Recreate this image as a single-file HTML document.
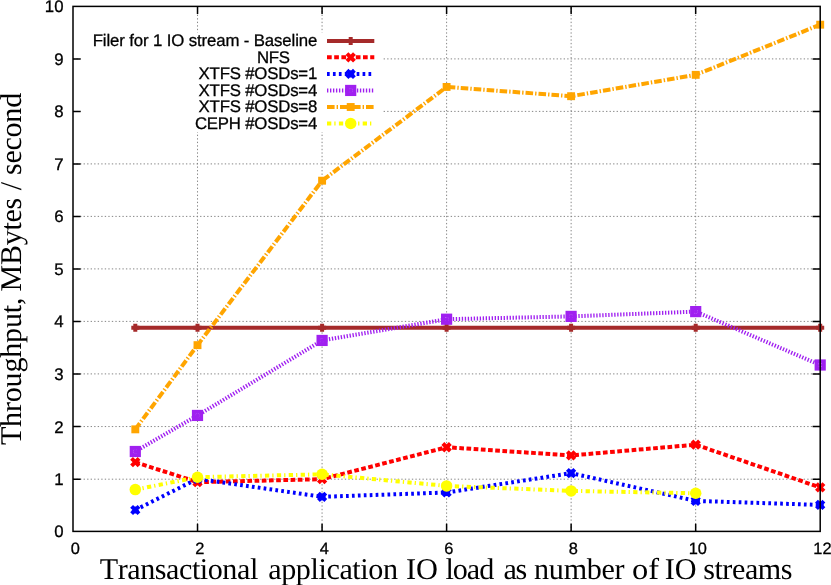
<!DOCTYPE html>
<html><head><meta charset="utf-8"><title>Throughput chart</title>
<style>
html,body{margin:0;padding:0;background:#fff;}
body{width:831px;height:585px;overflow:hidden;}
svg{display:block;will-change:transform;}
text{filter:grayscale(1);text-rendering:geometricPrecision;font-family:"Liberation Sans",sans-serif;fill:#000;stroke:#000;stroke-width:0.3px;}
.ser{font-family:"Liberation Serif",serif;font-kerning:none;stroke:none;}
</style></head><body>
<svg width="831" height="585" viewBox="0 0 831 585">
<rect x="0" y="0" width="831" height="585" fill="#fff"/>
<path d="M73.00 479.20H820.20M73.00 426.55H820.20M73.00 373.90H820.20M73.00 321.40H820.20M73.00 268.90H820.20M73.00 216.40H820.20M73.00 163.90H820.20M73.00 111.40H820.20M73.00 58.90H820.20M197.53 531.40V6.40M322.07 531.40V6.40M446.60 531.40V6.40M571.13 531.40V6.40M695.67 531.40V6.40" stroke="#808080" stroke-width="0.95" stroke-dasharray="1.35 2.18" fill="none"/>
<rect x="80.9" y="32.5" width="301.6" height="99.5" fill="#fff"/>
<polyline points="135.30,327.70 197.50,327.70 322.10,327.70 446.60,327.70 571.10,327.70 695.70,327.70 820.20,327.70" stroke="#a52a2a" stroke-width="4" fill="none" stroke-linejoin="miter"/>
<path d="M131.30 327.70H139.30M135.30 323.70V331.70" stroke="#a52a2a" stroke-width="4" fill="none"/>
<path d="M193.50 327.70H201.50M197.50 323.70V331.70" stroke="#a52a2a" stroke-width="4" fill="none"/>
<path d="M318.10 327.70H326.10M322.10 323.70V331.70" stroke="#a52a2a" stroke-width="4" fill="none"/>
<path d="M442.60 327.70H450.60M446.60 323.70V331.70" stroke="#a52a2a" stroke-width="4" fill="none"/>
<path d="M567.10 327.70H575.10M571.10 323.70V331.70" stroke="#a52a2a" stroke-width="4" fill="none"/>
<path d="M691.70 327.70H699.70M695.70 323.70V331.70" stroke="#a52a2a" stroke-width="4" fill="none"/>
<path d="M816.20 327.70H824.20M820.20 323.70V331.70" stroke="#a52a2a" stroke-width="4" fill="none"/>
<polyline points="135.30,462.20 197.50,482.15 322.10,479.20 446.60,447.25 571.10,455.45 695.70,444.70 820.20,487.45" stroke="#ff0000" stroke-width="4" fill="none" stroke-linejoin="miter" stroke-dasharray="4.7 2.5"/>
<path d="M131.55 458.45L139.05 465.95M131.55 465.95L139.05 458.45" stroke="#ff0000" stroke-width="4" fill="none"/>
<path d="M193.75 478.40L201.25 485.90M193.75 485.90L201.25 478.40" stroke="#ff0000" stroke-width="4" fill="none"/>
<path d="M318.35 475.45L325.85 482.95M318.35 482.95L325.85 475.45" stroke="#ff0000" stroke-width="4" fill="none"/>
<path d="M442.85 443.50L450.35 451.00M442.85 451.00L450.35 443.50" stroke="#ff0000" stroke-width="4" fill="none"/>
<path d="M567.35 451.70L574.85 459.20M567.35 459.20L574.85 451.70" stroke="#ff0000" stroke-width="4" fill="none"/>
<path d="M691.95 440.95L699.45 448.45M691.95 448.45L699.45 440.95" stroke="#ff0000" stroke-width="4" fill="none"/>
<path d="M816.45 483.70L823.95 491.20M816.45 491.20L823.95 483.70" stroke="#ff0000" stroke-width="4" fill="none"/>
<polyline points="135.30,510.00 197.50,478.80 322.10,496.80 446.60,492.50 571.10,473.15 695.70,500.90 820.20,504.90" stroke="#0000ff" stroke-width="4" fill="none" stroke-linejoin="miter" stroke-dasharray="2.7 3.23"/>
<path d="M131.60 506.30L139.00 513.70M131.60 513.70L139.00 506.30M131.70 510.00H138.90M135.30 506.40V513.60" stroke="#0000ff" stroke-width="4" fill="none"/>
<path d="M193.80 475.10L201.20 482.50M193.80 482.50L201.20 475.10M193.90 478.80H201.10M197.50 475.20V482.40" stroke="#0000ff" stroke-width="4" fill="none"/>
<path d="M318.40 493.10L325.80 500.50M318.40 500.50L325.80 493.10M318.50 496.80H325.70M322.10 493.20V500.40" stroke="#0000ff" stroke-width="4" fill="none"/>
<path d="M442.90 488.80L450.30 496.20M442.90 496.20L450.30 488.80M443.00 492.50H450.20M446.60 488.90V496.10" stroke="#0000ff" stroke-width="4" fill="none"/>
<path d="M567.40 469.45L574.80 476.85M567.40 476.85L574.80 469.45M567.50 473.15H574.70M571.10 469.55V476.75" stroke="#0000ff" stroke-width="4" fill="none"/>
<path d="M692.00 497.20L699.40 504.60M692.00 504.60L699.40 497.20M692.10 500.90H699.30M695.70 497.30V504.50" stroke="#0000ff" stroke-width="4" fill="none"/>
<path d="M816.50 501.20L823.90 508.60M816.50 508.60L823.90 501.20M816.60 504.90H823.80M820.20 501.30V508.50" stroke="#0000ff" stroke-width="4" fill="none"/>
<polyline points="135.30,451.50 197.50,415.45 322.10,340.45 446.60,319.20 571.10,316.40 695.70,311.60 820.20,365.00" stroke="#a020f0" stroke-width="4" fill="none" stroke-linejoin="miter" stroke-dasharray="1.35 1.64"/>
<rect x="131.70" y="447.90" width="7.20" height="7.20" fill="none" stroke="#a020f0" stroke-width="4"/><circle cx="135.30" cy="451.50" r="2" fill="#a020f0"/>
<rect x="193.90" y="411.85" width="7.20" height="7.20" fill="none" stroke="#a020f0" stroke-width="4"/><circle cx="197.50" cy="415.45" r="2" fill="#a020f0"/>
<rect x="318.50" y="336.85" width="7.20" height="7.20" fill="none" stroke="#a020f0" stroke-width="4"/><circle cx="322.10" cy="340.45" r="2" fill="#a020f0"/>
<rect x="443.00" y="315.60" width="7.20" height="7.20" fill="none" stroke="#a020f0" stroke-width="4"/><circle cx="446.60" cy="319.20" r="2" fill="#a020f0"/>
<rect x="567.50" y="312.80" width="7.20" height="7.20" fill="none" stroke="#a020f0" stroke-width="4"/><circle cx="571.10" cy="316.40" r="2" fill="#a020f0"/>
<rect x="692.10" y="308.00" width="7.20" height="7.20" fill="none" stroke="#a020f0" stroke-width="4"/><circle cx="695.70" cy="311.60" r="2" fill="#a020f0"/>
<rect x="816.60" y="361.40" width="7.20" height="7.20" fill="none" stroke="#a020f0" stroke-width="4"/><circle cx="820.20" cy="365.00" r="2" fill="#a020f0"/>
<polyline points="135.30,429.35 197.50,345.15 322.10,180.70 446.60,86.95 571.10,96.20 695.70,74.85 820.20,24.70" stroke="#ffa500" stroke-width="4" fill="none" stroke-linejoin="miter" stroke-dasharray="7.6 2 1.4 2"/>
<rect x="131.35" y="425.40" width="7.90" height="7.90" fill="#ffa500"/>
<rect x="193.55" y="341.20" width="7.90" height="7.90" fill="#ffa500"/>
<rect x="318.15" y="176.75" width="7.90" height="7.90" fill="#ffa500"/>
<rect x="442.65" y="83.00" width="7.90" height="7.90" fill="#ffa500"/>
<rect x="567.15" y="92.25" width="7.90" height="7.90" fill="#ffa500"/>
<rect x="691.75" y="70.90" width="7.90" height="7.90" fill="#ffa500"/>
<rect x="816.25" y="20.75" width="7.90" height="7.90" fill="#ffa500"/>
<polyline points="135.30,489.60 197.50,477.20 322.10,474.30 446.60,485.90 571.10,490.90 695.70,493.30" stroke="#ffff00" stroke-width="4" fill="none" stroke-linejoin="miter" stroke-dasharray="4.3 3 1.3 3.3"/>
<circle cx="135.30" cy="489.60" r="5.75" fill="#ffff00"/>
<circle cx="197.50" cy="477.20" r="5.75" fill="#ffff00"/>
<circle cx="322.10" cy="474.30" r="5.75" fill="#ffff00"/>
<circle cx="446.60" cy="485.90" r="5.75" fill="#ffff00"/>
<circle cx="571.10" cy="490.90" r="5.75" fill="#ffff00"/>
<circle cx="695.70" cy="493.30" r="5.75" fill="#ffff00"/>
<path d="M327 40.90H374.3" stroke="#a52a2a" stroke-width="4" fill="none"/>
<path d="M346.70 40.90H354.70M350.70 36.90V44.90" stroke="#a52a2a" stroke-width="4" fill="none"/>
<text x="92.70" y="46.20" font-size="16.8" textLength="224.6" lengthAdjust="spacing">Filer for 1 IO stream - Baseline</text>
<path d="M327 57.30H374.3" stroke="#ff0000" stroke-width="4" fill="none" stroke-dasharray="4.7 2.5"/>
<path d="M346.95 53.55L354.45 61.05M346.95 61.05L354.45 53.55" stroke="#ff0000" stroke-width="4" fill="none"/>
<text x="256.90" y="62.60" font-size="16.8" textLength="33.0" lengthAdjust="spacing">NFS</text>
<path d="M327 73.95H374.3" stroke="#0000ff" stroke-width="4" fill="none" stroke-dasharray="2.7 3.23"/>
<path d="M347.00 70.25L354.40 77.65M347.00 77.65L354.40 70.25M347.10 73.95H354.30M350.70 70.35V77.55" stroke="#0000ff" stroke-width="4" fill="none"/>
<text x="198.55" y="79.25" font-size="16.8" textLength="118.75" lengthAdjust="spacing">XTFS #OSDs=1</text>
<path d="M327 90.45H374.3" stroke="#a020f0" stroke-width="4" fill="none" stroke-dasharray="1.35 1.64"/>
<rect x="347.10" y="86.85" width="7.20" height="7.20" fill="none" stroke="#a020f0" stroke-width="4"/><circle cx="350.70" cy="90.45" r="2" fill="#a020f0"/>
<text x="198.55" y="95.75" font-size="16.8" textLength="118.75" lengthAdjust="spacing">XTFS #OSDs=4</text>
<path d="M327 107.00H374.3" stroke="#ffa500" stroke-width="4" fill="none" stroke-dasharray="7.6 2 1.4 2"/>
<rect x="346.75" y="103.05" width="7.90" height="7.90" fill="#ffa500"/>
<text x="198.55" y="112.30" font-size="16.8" textLength="118.75" lengthAdjust="spacing">XTFS #OSDs=8</text>
<path d="M327 123.55H374.3" stroke="#ffff00" stroke-width="4" fill="none" stroke-dasharray="4.3 3 1.3 3.3"/>
<circle cx="350.70" cy="123.55" r="5.75" fill="#ffff00"/>
<text x="194.90" y="128.85" font-size="16.8" textLength="122.4" lengthAdjust="spacing">CEPH #OSDs=4</text>
<path d="M73.00 479.20h7.6M820.20 479.20h-7.6M73.00 426.55h7.6M820.20 426.55h-7.6M73.00 373.90h7.6M820.20 373.90h-7.6M73.00 321.40h7.6M820.20 321.40h-7.6M73.00 268.90h7.6M820.20 268.90h-7.6M73.00 216.40h7.6M820.20 216.40h-7.6M73.00 163.90h7.6M820.20 163.90h-7.6M73.00 111.40h7.6M820.20 111.40h-7.6M73.00 58.90h7.6M820.20 58.90h-7.6M197.53 531.40v-7.6M197.53 6.40v7.6M322.07 531.40v-7.6M322.07 6.40v7.6M446.60 531.40v-7.6M446.60 6.40v7.6M571.13 531.40v-7.6M571.13 6.40v7.6M695.67 531.40v-7.6M695.67 6.40v7.6" stroke="#000" stroke-width="1.5" fill="none"/>
<rect x="73.0" y="6.4" width="747.20" height="525.00" stroke="#000" stroke-width="1.5" fill="none"/>
<text x="63.5" y="537.35" font-size="16.8" text-anchor="end">0</text>
<text x="63.5" y="485.15" font-size="16.8" text-anchor="end">1</text>
<text x="63.5" y="432.50" font-size="16.8" text-anchor="end">2</text>
<text x="63.5" y="379.85" font-size="16.8" text-anchor="end">3</text>
<text x="63.5" y="327.35" font-size="16.8" text-anchor="end">4</text>
<text x="63.5" y="274.85" font-size="16.8" text-anchor="end">5</text>
<text x="63.5" y="222.35" font-size="16.8" text-anchor="end">6</text>
<text x="63.5" y="169.85" font-size="16.8" text-anchor="end">7</text>
<text x="63.5" y="117.35" font-size="16.8" text-anchor="end">8</text>
<text x="63.5" y="64.85" font-size="16.8" text-anchor="end">9</text>
<text x="63.5" y="12.35" font-size="16.8" text-anchor="end">10</text>
<text x="75.20" y="554.0" font-size="16.4" text-anchor="middle">0</text>
<text x="199.73" y="554.0" font-size="16.4" text-anchor="middle">2</text>
<text x="324.27" y="554.0" font-size="16.4" text-anchor="middle">4</text>
<text x="448.80" y="554.0" font-size="16.4" text-anchor="middle">6</text>
<text x="573.33" y="554.0" font-size="16.4" text-anchor="middle">8</text>
<text x="697.87" y="554.0" font-size="16.4" text-anchor="middle">10</text>
<text x="822.40" y="554.0" font-size="16.4" text-anchor="middle">12</text>
<text class="ser" x="99.75" y="578.9" font-size="30.1" textLength="158.50" lengthAdjust="spacing">Transactional</text>
<text class="ser" x="268.20" y="578.9" font-size="30.1" textLength="129.84" lengthAdjust="spacing">application</text>
<text class="ser" x="405.99" y="578.9" font-size="30.1" textLength="32.09" lengthAdjust="spacingAndGlyphs">IO</text>
<text class="ser" x="445.45" y="578.9" font-size="30.1" textLength="48.80" lengthAdjust="spacing">load</text>
<text class="ser" x="503.50" y="578.9" font-size="30.1" textLength="23.60" lengthAdjust="spacing">as</text>
<text class="ser" x="534.10" y="578.9" font-size="30.1" textLength="90.54" lengthAdjust="spacing">number</text>
<text class="ser" x="631.95" y="578.9" font-size="30.1" textLength="27.03" lengthAdjust="spacingAndGlyphs">of</text>
<text class="ser" x="664.79" y="578.9" font-size="30.1" textLength="31.87" lengthAdjust="spacingAndGlyphs">IO</text>
<text class="ser" x="703.15" y="578.9" font-size="30.1" textLength="89.35" lengthAdjust="spacing">streams</text>
<text class="ser" transform="translate(21.3 445.05) rotate(-90)" x="0" y="0" font-size="30.1" textLength="147.51" lengthAdjust="spacing">Throughput,</text>
<text class="ser" transform="translate(21.3 291.55) rotate(-90)" x="0" y="0" font-size="30.1" textLength="93.76" lengthAdjust="spacing">MBytes</text>
<text class="ser" transform="translate(21.3 190.25) rotate(-90)" x="0" y="0" font-size="30.1" textLength="8.58" lengthAdjust="spacing">/</text>
<text class="ser" transform="translate(21.3 175.05) rotate(-90)" x="0" y="0" font-size="30.1" textLength="82.26" lengthAdjust="spacing">second</text>
</svg></body></html>
